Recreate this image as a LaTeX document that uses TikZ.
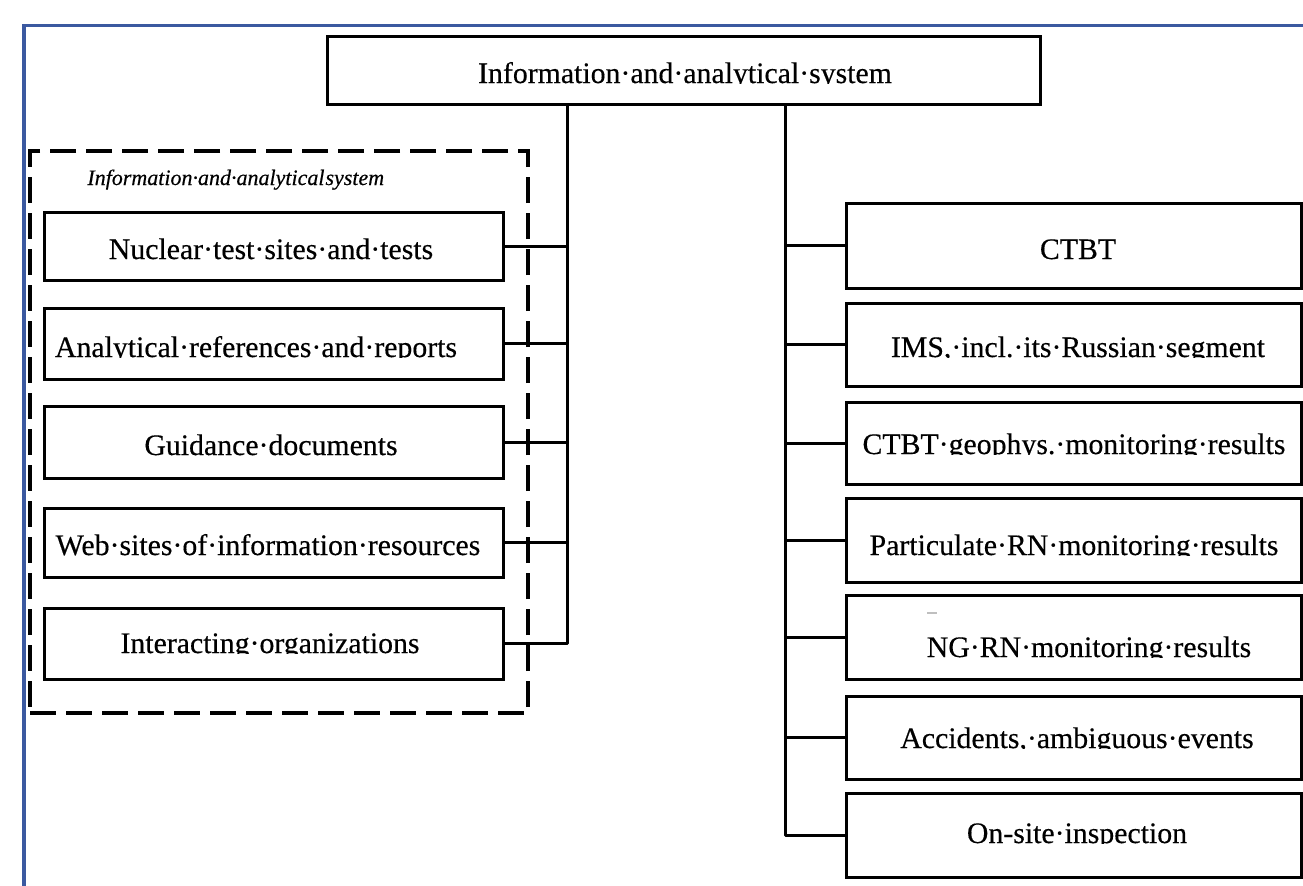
\documentclass[tikz,border=0pt]{standalone}
\usepackage{fontspec}
\setmainfont{Liberation Serif}
\newfontfamily\boxfont{Liberation Serif}[FakeBold=0.35]
\newfontfamily\grpfont{Liberation Serif Italic}[FakeBold=0.4]
\definecolor{frameblue}{RGB}{59,89,160}
\newcommand\cliptext[4]{%
  \begin{scope}
    \clip ({#2-290},{#3+0.7}) rectangle ({#2+290},{#3-45});
    \node[lbl,anchor=base] (#1) at (#2,#3) {#4};
  \end{scope}}
\begin{document}
\begin{tikzpicture}[x=0.5pt,y=-0.5pt,
  box/.style={draw=black, line width=1.5pt, inner sep=0pt, fill=white},
  lbox/.style={box, minimum width=229.5pt},
  rbox/.style={box, minimum width=227.5pt},
  conn/.style={draw=black, line width=1.5pt, line join=round},
  grpbox/.style={draw=black, line width=1.6pt, dash pattern=on 13pt off 5pt, inner sep=0pt},
  lbl/.style={font=\boxfont\fontsize{14.9pt}{18pt}\selectfont, inner sep=0pt},
  ilbl/.style={font=\grpfont\fontsize{11pt}{13pt}\selectfont, inner sep=0pt},
  frameline/.style={draw=frameblue, line width=1.7pt}]
\useasboundingbox (0,0) rectangle (1303,885);
\fill[white] (0,0) rectangle (1303,885);
% blue page frame (only left and top visible)
\draw[frameline] (24,900) -- (24,25.5) -- (1320,25.5);

% group frame
\node[grpbox, minimum width=249pt, minimum height=281pt] (grp) at (279,432) {};
\node[ilbl, anchor=base west] (glbl) at (87,185) {Information·and·analytical{\kern0.5pt}system};

% top box
\node[box, minimum width=356.5pt, minimum height=34pt] (top) at (683.5,70) {};

% left boxes
\node[lbox, minimum height=34pt]   (n1) at (273.5,246) {};
\node[lbox, minimum height=35.5pt] (n2) at (273.5,343.5) {};
\node[lbox, minimum height=36pt]   (n3) at (273.5,442) {};
\node[lbox, minimum height=34.5pt] (n4) at (273.5,542.5) {};
\node[lbox, minimum height=35.5pt] (n5) at (273.5,643.5) {};

% right boxes
\node[rbox, minimum height=42.5pt] (r1) at (1073.5,245.5) {};
\node[rbox, minimum height=41.5pt] (r2) at (1073.5,344.5) {};
\node[rbox, minimum height=41pt]   (r3) at (1073.5,443) {};
\node[rbox, minimum height=42pt]   (r4) at (1073.5,540) {};
\node[rbox, minimum height=42pt]   (r5) at (1073.5,637) {};
\node[rbox, minimum height=41.5pt] (r6) at (1073.5,737.5) {};
\node[rbox, minimum height=42pt]   (r7) at (1073.5,835) {};

% trunks
\coordinate (jl) at (567.5,104);
\coordinate (jr) at (785,104);
\draw[conn] (top.south -| jl) |- (n5.east);
\draw[conn] (top.south -| jr) |- (r7.west);
\foreach \b in {n1,n2,n3,n4}{\draw[conn] (\b.east) -- (\b.east -| jl);}
\foreach \b in {r1,r2,r3,r4,r5,r6}{\draw[conn] (\b.west) -- (\b.west -| jr);}

% texts (descenders cut off as in the original)
\cliptext{ttop}{685}{83}{Information·and·analytical·system}
\cliptext{tn1}{271}{259}{Nuclear·test·sites·and·tests}
\cliptext{tn2}{256}{357}{Analytical·references·and·reports}
\cliptext{tn3}{271}{455}{Guidance·documents}
\cliptext{tn4}{268}{555}{Web·sites·of·information·resources}
\cliptext{tn5}{270}{653}{Interacting·organizations}
\cliptext{tr1}{1078}{259}{CTBT}
\cliptext{tr2}{1078}{357}{IMS,·incl.·its·Russian·segment}
\cliptext{tr3}{1074}{454}{CTBT·geophys.·monitoring·results}
\cliptext{tr4}{1074}{555}{Particulate·RN·monitoring·results}
\cliptext{tr5}{1089}{657}{NG·RN·monitoring·results}
\cliptext{tr6}{1077}{748}{Accidents,·ambiguous·events}
\cliptext{tr7}{1077}{843}{On-site·inspection}

% small grey mark inside the NG box
\draw[black!25, line width=0.8pt] (927,613) -- (937,613);
\end{tikzpicture}
\end{document}
